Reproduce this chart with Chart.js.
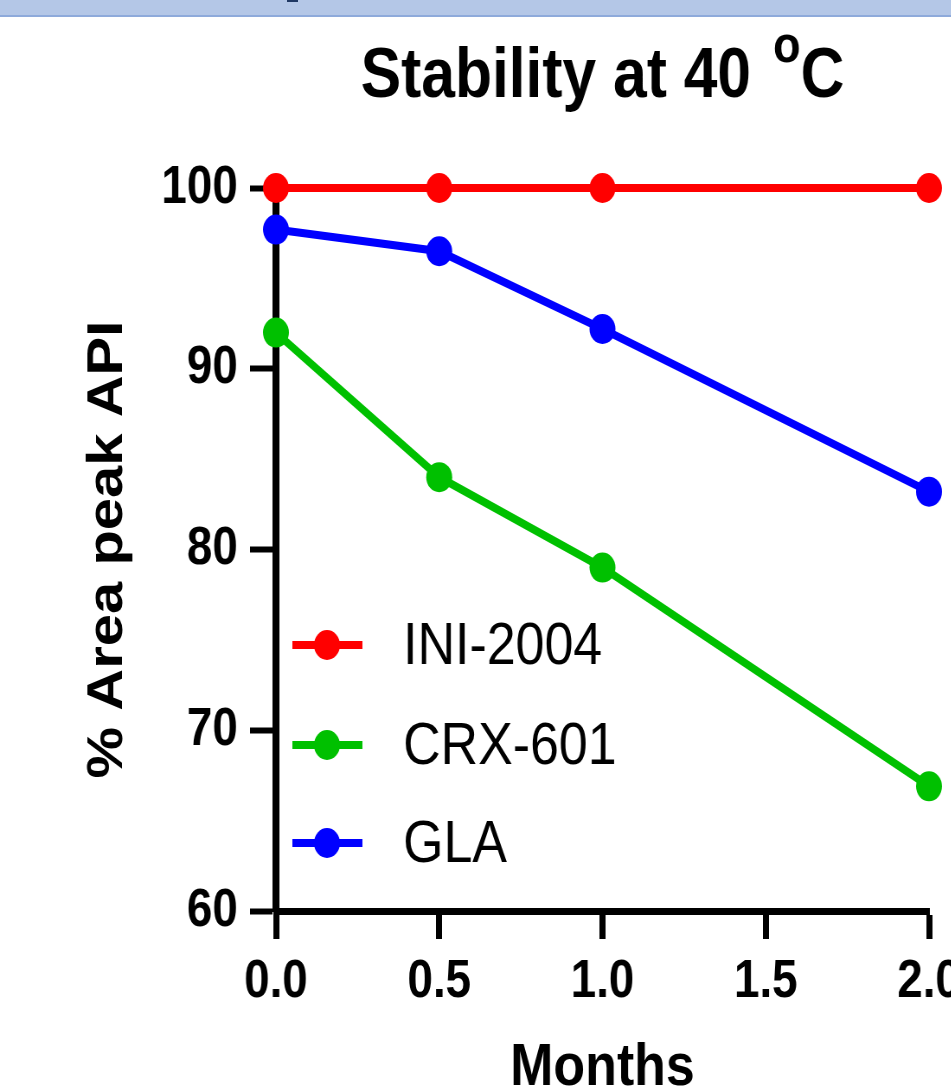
<!DOCTYPE html>
<html>
<head>
<meta charset="utf-8">
<script src="https://cdn.jsdelivr.net/npm/chart.js@4.4.1/dist/chart.umd.min.js"></script>
<style>
html, body { margin:0; padding:0; background:#fff; overflow:hidden; width:951px; height:1091px; }
#band { position:absolute; left:0; top:0; width:951px; height:15px; background:#b4c7e7; border-bottom:2px solid #8eaadb; z-index:2; }
#mark { position:absolute; left:287px; top:0; width:11px; height:2px; background:#1f3864; }
/* the reference picture is squeezed horizontally */
#wrap { position:absolute; left:0; top:0; width:1140px; height:1120px; transform:scaleX(0.865); transform-origin:0 0; }
</style>
</head>
<body>
<div id="band"><div id="mark"></div></div>
<div id="wrap"><canvas id="myChart" width="1140" height="1120"></canvas></div>
<script>
// data
const months  = [0, 0.5, 1, 2];
const ini2004 = [100, 100, 100, 100];
const crx601  = [92.0, 84.0, 79.0, 66.9];
const gla     = [97.7, 96.5, 92.2, 83.2];
const noms    = ['INI-2004', 'CRX-601', 'GLA'];
const colors  = ['#ff0000', '#00c000', '#0000ff'];
const yTicks  = [60, 70, 80, 90, 100];
const xTicks  = [0, 0.5, 1, 1.5, 2];
const titol   = ['Stability at 40 ', 'o', 'C'];
const titolX  = 'Months';
const titolY  = '% Area peak API';

const FONT = '"Liberation Sans", Arial, sans-serif';

function punts(ys) {
    return months.map((m, i) => ({x: m, y: ys[i]}));
}

// title with the superscript "o"
const titlePlugin = {
    id: 'titol',
    afterDraw(chart) {
        const ctx = chart.ctx;
        const a = chart.chartArea;
        ctx.save();
        ctx.fillStyle = '#000';
        ctx.textBaseline = 'alphabetic';
        ctx.textAlign = 'left';
        ctx.font = 'bold 70px ' + FONT;
        const w1 = ctx.measureText(titol[0]).width;
        const w3 = ctx.measureText(titol[2]).width;
        ctx.font = 'bold 52px ' + FONT;
        const w2 = ctx.measureText(titol[1]).width;
        const gap = 6;
        let x = (a.left + a.right) / 2 - (w1 + gap + w2 + w3) / 2;
        ctx.font = 'bold 70px ' + FONT;
        ctx.fillText(titol[0], x, 97);
        x += w1 + gap;
        ctx.font = 'bold 52px ' + FONT;
        ctx.fillText(titol[1], x, 62);
        x += w2;
        ctx.font = 'bold 70px ' + FONT;
        ctx.fillText(titol[2], x, 97);
        ctx.restore();
    }
};

// legend inside the plot, bottom left
const legendPlugin = {
    id: 'llegenda',
    afterDraw(chart) {
        const ctx = chart.ctx;
        const a = chart.chartArea;
        const files = [645, 745, 843];
        ctx.save();
        chart.data.datasets.forEach((ds, i) => {
            const y = files[i];
            ctx.strokeStyle = ds.borderColor;
            ctx.lineWidth = 8;
            ctx.beginPath();
            ctx.moveTo(a.left + 19, y);
            ctx.lineTo(a.left + 100, y);
            ctx.stroke();
            ctx.fillStyle = ds.backgroundColor;
            ctx.beginPath();
            ctx.arc(a.left + 59, y, 15, 0, Math.PI * 2);
            ctx.fill();
            ctx.fillStyle = '#000';
            ctx.font = '60px ' + FONT;
            ctx.textBaseline = 'middle';
            ctx.fillText(ds.label, a.left + 147, y + 2);
        });
        ctx.restore();
    }
};

const ctx = document.getElementById('myChart').getContext('2d');
const myChart = new Chart(ctx, {
    type: 'line',
    data: {
        datasets: [ini2004, crx601, gla].map((serie, i) => ({
            label: noms[i],
            data: punts(serie),
            borderColor: colors[i],
            backgroundColor: colors[i],
            borderWidth: 8,
            pointRadius: 15,
            pointBorderWidth: 0,
            pointHoverRadius: 15,
            tension: 0,
            clip: false
        }))
    },
    options: {
        responsive: false,
        animation: false,
        devicePixelRatio: 1,
        layout: { padding: { left: 0, top: 188, right: 66, bottom: 0 } },
        plugins: {
            legend: { display: false },
            title: { display: false },
            tooltip: { enabled: false }
        },
        scales: {
            x: {
                type: 'linear',
                min: 0,
                max: 2,
                afterBuildTicks: s => { s.ticks = xTicks.map(v => ({value: v})); },
                afterFit: s => { s.height = 209; },
                ticks: {
                    color: '#000',
                    padding: 12,
                    font: { family: FONT, size: 53, weight: 'bold' },
                    callback: v => Number(v).toFixed(1)
                },
                grid: {
                    drawOnChartArea: false,
                    tickLength: 28,
                    tickWidth: 7,
                    tickColor: '#000'
                },
                border: { display: true, color: '#000', width: 7 },
                title: {
                    display: true,
                    text: titolX,
                    color: '#000',
                    padding: { top: 0, bottom: 16 },
                    font: { family: FONT, size: 60, weight: 'bold' }
                }
            },
            y: {
                type: 'linear',
                min: 60,
                max: 100,
                afterBuildTicks: s => { s.ticks = yTicks.map(v => ({value: v})); },
                afterFit: s => { s.width = 319; },
                ticks: {
                    color: '#000',
                    padding: 14,
                    font: { family: FONT, size: 53, weight: 'bold' }
                },
                grid: {
                    drawOnChartArea: false,
                    tickLength: 30,
                    tickWidth: 6,
                    tickColor: '#000'
                },
                border: { display: true, color: '#000', width: 8 },
                title: {
                    display: true,
                    text: titolY,
                    color: '#000',
                    padding: { top: 90, bottom: 0 },
                    font: { family: FONT, size: 58, weight: 'bold' }
                }
            }
        }
    },
    plugins: [titlePlugin, legendPlugin]
});
</script>
</body>
</html>
